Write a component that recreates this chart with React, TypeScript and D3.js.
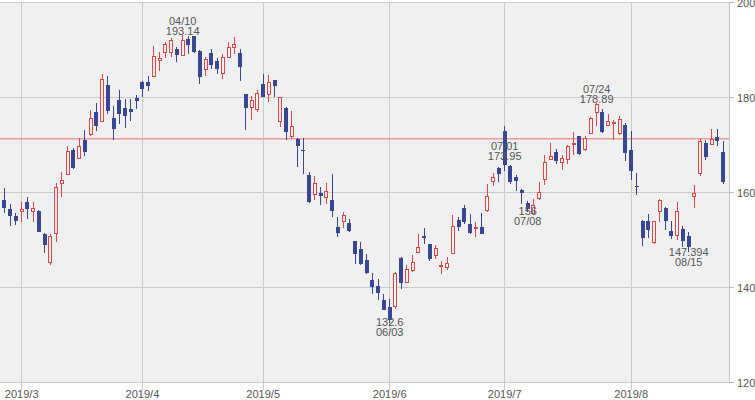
import * as d3 from "d3";

// trading days shown, per month (2019)
const febDays = [26, 27, 28];
const marDays = [1, 4, 5, 6, 7, 8, 11, 12, 13, 14, 15, 18, 19, 20, 21, 22, 25, 26, 27, 28, 29];
const aprDays = [1, 2, 3, 4, 5, 8, 9, 10, 11, 12, 15, 16, 17, 18, 22, 23, 24, 25, 26, 29, 30];
const mayDays = [1, 2, 3, 6, 7, 8, 9, 10, 13, 14, 15, 16, 17, 20, 21, 22, 23, 24, 28, 29, 30, 31];
const junDays = [3, 4, 5, 6, 7, 10, 11, 12, 13, 14, 17, 18, 19, 20, 21, 24, 25, 26, 27, 28];
const julDays = [1, 2, 3, 5, 8, 9, 10, 11, 12, 15, 16, 17, 18, 19, 22, 23, 24, 25, 26, 29, 30, 31];
const augDays = [1, 2, 5, 6, 7, 8, 9, 12, 13, 14, 15, 16, 19, 20, 21, 22, 23];

const opens = [
  158.5, 156.6, 155.0, 155.9, 158.1, 155.9, 156.2, 151.2, 145.2, 151.3, 162.0, 163.7, 169.0, 167.1, 171.0, 172.2, 176.9, 175.0, 182.7, 175.7, 179.4, 177.8, 177.5,
  179.9, 183.2, 183.2, 184.5, 187.7, 189.5, 189.4, 190.3, 188.8, 192.35, 192.9, 189.8, 185.8, 189.4, 187.6, 185.0, 188.5, 190.6, 189.4, 180.7, 177.8, 177.5,
  182.9, 180.6, 183.6, 175.0, 177.8, 171.7, 171.3, 168.9, 163.6, 159.6, 159.9, 159.0, 158.5, 152.7, 153.9, 153.6, 149.7, 148.1, 145.8, 141.5, 140.4, 137.4,
  136.0, 136.0, 146.2, 141.1, 143.6, 147.4, 150.9, 149.2, 146.7, 144.5, 144.3, 147.2, 154.3, 156.8, 153.4, 152.6, 152.8, 156.2, 162.4, 165.1,
  173.0, 165.5, 163.2, 160.6, 157.8, 155.5, 158.7, 162.7, 167.0, 168.6, 166.4, 166.9, 170.1, 171.8, 169.0, 172.5, 176.9, 176.9, 174.2, 174.7, 172.5, 174.2,
  169.0, 161.3, 153.9, 153.9, 149.5, 155.9, 156.7, 152.0, 150.9, 152.3, 150.9, 159.2, 163.9, 170.5, 170.2, 171.6, 168.5,
];
const highs = [
  160.9, 157.6, 155.7, 158.1, 159.0, 158.0, 156.4, 151.5, 151.3, 162.0, 164.4, 169.7, 169.4, 171.5, 173.2, 177.4, 178.9, 184.9, 184.6, 178.2, 181.6, 179.7, 179.7,
  180.6, 183.4, 184.6, 190.9, 189.5, 191.6, 192.6, 190.6, 193.14, 192.9, 193.0, 189.9, 188.5, 190.2, 188.3, 189.2, 191.6, 192.7, 190.2, 180.8, 180.4, 181.6,
  185.0, 184.8, 183.7, 180.2, 178.0, 177.1, 171.5, 171.5, 164.3, 163.4, 161.1, 162.0, 163.8, 154.8, 155.9, 154.5, 149.7, 149.6, 147.1, 143.0, 141.8, 138.6,
  137.6, 143.2, 146.4, 144.8, 146.9, 151.2, 152.5, 149.2, 149.0, 145.5, 146.5, 155.2, 154.8, 157.3, 155.5, 153.8, 155.7, 161.7, 164.1, 165.3,
  173.95, 165.7, 163.6, 160.8, 158.2, 158.7, 162.2, 168.0, 170.5, 169.1, 168.0, 169.9, 172.7, 172.0, 171.8, 175.9, 178.89, 177.6, 176.6, 175.3, 176.2, 174.6,
  172.9, 164.1, 154.2, 155.5, 154.1, 158.7, 156.9, 154.1, 158.0, 153.0, 151.6, 161.5, 171.3, 171.0, 173.4, 173.3, 170.8,
];
const lows = [
  155.7, 153.0, 153.1, 153.8, 154.4, 153.8, 151.7, 147.2, 144.8, 149.6, 159.0, 163.6, 165.0, 167.0, 167.6, 171.8, 172.9, 174.8, 176.6, 171.1, 174.5, 173.6, 175.0,
  177.6, 180.2, 181.3, 184.4, 185.5, 188.4, 188.5, 187.4, 188.7, 189.2, 189.3, 182.9, 184.6, 186.0, 185.0, 183.9, 188.5, 189.2, 183.4, 173.1, 175.2, 177.0,
  180.1, 179.0, 180.2, 173.8, 171.1, 171.3, 165.3, 163.9, 157.8, 158.5, 157.3, 157.6, 154.8, 150.6, 152.5, 151.6, 145.0, 144.8, 142.9, 138.7, 137.4, 135.2,
  132.6, 135.5, 139.7, 141.1, 143.2, 147.4, 149.2, 145.5, 146.0, 142.9, 143.6, 147.1, 151.9, 153.4, 151.3, 150.6, 151.3, 155.9, 161.3, 162.2,
  164.6, 161.8, 160.4, 157.6, 156, 155.4, 158.5, 161.5, 166.9, 166.0, 164.8, 166.0, 167.8, 168.0, 168.8, 172.4, 174.1, 172.5, 174.1, 171.0, 172.2, 166.7,
  162.7, 159.4, 148.8, 150.5, 149.2, 153.8, 152.1, 150.3, 149.9, 148.5, 147.394, 156.7, 163.4, 166.9, 169.9, 169.8, 161.7,
];
const closes = [
  156.7, 155.0, 154.0, 156.4, 156.5, 156.6, 151.7, 149.0, 150.7, 161.1, 162.5, 168.7, 165.2, 169.7, 168.5, 175.5, 174.0, 183.7, 177.1, 173.4, 176.6, 176.1, 176.9,
  179.2, 181.8, 182.5, 188.6, 188.3, 191.2, 191.9, 189.0, 192.0, 190.95, 189.5, 184.3, 188.1, 186.9, 185.9, 188.5, 190.6, 191.2, 186.4, 177.7, 179.4, 180.8,
  180.1, 183.2, 182.5, 179.9, 172.7, 173.9, 169.8, 168.8, 158.0, 162.0, 159.2, 160.2, 156.2, 151.4, 155.2, 151.9, 147.1, 144.9, 143.0, 140.1, 138.8, 135.3,
  133.2, 143.0, 140.9, 143.7, 145.3, 148.5, 150.5, 146.0, 148.3, 144.6, 145.1, 152.8, 152.7, 153.8, 151.4, 152.7, 151.3, 159.2, 163.1, 163.9,
  165.8, 162.2, 162.4, 159.9, 156.6, 157.3, 160.1, 166.4, 167.6, 166.7, 167.1, 169.7, 170.3, 168.1, 171.3, 175.5, 178.5, 172.7, 174.9, 174.8, 175.3, 168.3,
  164.5, 161.1, 150.5, 152.1, 153.9, 158.3, 153.9, 150.9, 156.0, 149.8, 148.5, 159.7, 170.8, 167.4, 171.2, 170.9, 162.2,
];

const refLine = 171.3;
const yTicks = [120, 140, 160, 180, 200];
const monthLabels = ["2019/3", "2019/4", "2019/5", "2019/6", "2019/7", "2019/8"];

// marked highs / lows (index into the series)
const peaks = [
  { i: 31, kind: "high" },
  { i: 67, kind: "low" },
  { i: 87, kind: "high" },
  { i: 91, kind: "low" },
  { i: 103, kind: "high" },
  { i: 119, kind: "low" },
];

const pad = (n: number) => String(n).padStart(2, "0");
const dates: string[] = [];
[febDays, marDays, aprDays, mayDays, junDays, julDays, augDays].forEach((days, m) => {
  days.forEach((d) => dates.push(`${pad(m + 2)}/${pad(d)}`));
});

const UP = "#d84848";
const DOWN = "#384694";
const TEXT = "#555";

export default function App() {
  const plotRight = 729;
  const top = 2.5;
  const bottom = 382.5;

  const x = d3
    .scaleBand<string>()
    .domain(dates)
    .range([1.575, 726.075])
    .paddingInner(0.3)
    .paddingOuter(0.15);
  const y = d3.scaleLinear().domain([120, 200]).range([bottom, top]);
  const cx = (i: number) => (x(dates[i]) ?? 0) + x.bandwidth() / 2;
  const bw = x.bandwidth();

  // first trading day of each month from March on
  const monthStarts = dates
    .map((d, i) => ({ d, i }))
    .filter((o, k) => k > 0 && o.d.slice(0, 2) !== dates[k - 1].slice(0, 2))
    .map((o) => o.i);

  const labelNudge: Record<number, number> = { 87: 34 };

  return (
    <svg
      width={755}
      height={400}
      style={{ position: "absolute", left: 0, top: 0, fontFamily: '"Liberation Sans", Arial, sans-serif' }}
    >
      <rect x={-1} y={top} width={plotRight + 1} height={bottom - top} fill="#f0f0f0" stroke="#c6c6c6" shapeRendering="crispEdges" />

      {/* horizontal grid + right axis */}
      {yTicks.map((t) => (
        <g key={t} shapeRendering="crispEdges">
          <line x1={0} x2={plotRight} y1={y(t)} y2={y(t)} stroke="#cacaca" />
          <line x1={plotRight} x2={plotRight + 5} y1={y(t)} y2={y(t)} stroke="#bbb" />
          <text x={plotRight + 8} y={y(t) + 4} fontSize={11} fill={TEXT}>
            {t}
          </text>
        </g>
      ))}

      {/* vertical grid + bottom axis */}
      {monthStarts.map((i, k) => (
        <g key={i}>
          <line x1={cx(i)} x2={cx(i)} y1={top} y2={bottom + 7} stroke="#cacaca" shapeRendering="crispEdges" />
          <text x={cx(i)} y={398} fontSize={11} fill={TEXT} textAnchor="middle">
            {monthLabels[k]}
          </text>
        </g>
      ))}

      <line x1={0} x2={plotRight} y1={y(refLine)} y2={y(refLine)} stroke="#eb9c9c" strokeWidth={1.5} />

      {/* candles */}
      <g shapeRendering="crispEdges">
        {dates.map((d, i) => {
          const o = opens[i];
          const c = closes[i];
          const up = c > o;
          const col = up ? UP : DOWN;
          const yTop = y(Math.max(o, c));
          const h = Math.max(1, Math.abs(y(o) - y(c)));
          const xc = cx(i);
          return (
            <g key={d}>
              <line x1={xc} x2={xc} y1={y(highs[i])} y2={y(lows[i])} stroke={col} />
              {up ? (
                <rect x={xc - bw / 2 + 0.5} y={yTop} width={bw - 1} height={h} fill="#f0f0f0" stroke={col} />
              ) : (
                <rect x={xc - bw / 2} y={yTop} width={bw} height={h} fill={col} />
              )}
            </g>
          );
        })}
      </g>

      {/* high / low marks */}
      {peaks.map((p) => {
        const xc = cx(p.i);
        const nudge = labelNudge[p.i] ?? 0;
        if (p.kind === "high") {
          const yy = y(highs[p.i]) + nudge;
          return (
            <g key={p.i} fontSize={11} fill={TEXT} textAnchor="middle">
              <text x={xc} y={yy - 10}>{dates[p.i]}</text>
              <text x={xc} y={yy}>{String(highs[p.i])}</text>
            </g>
          );
        }
        const yy = y(lows[p.i]) + 3.5;
        return (
          <g key={p.i} fontSize={11} fill={TEXT} textAnchor="middle">
            <text x={xc} y={yy}>{String(lows[p.i])}</text>
            <text x={xc} y={yy + 10}>{dates[p.i]}</text>
          </g>
        );
      })}
    </svg>
  );
}
